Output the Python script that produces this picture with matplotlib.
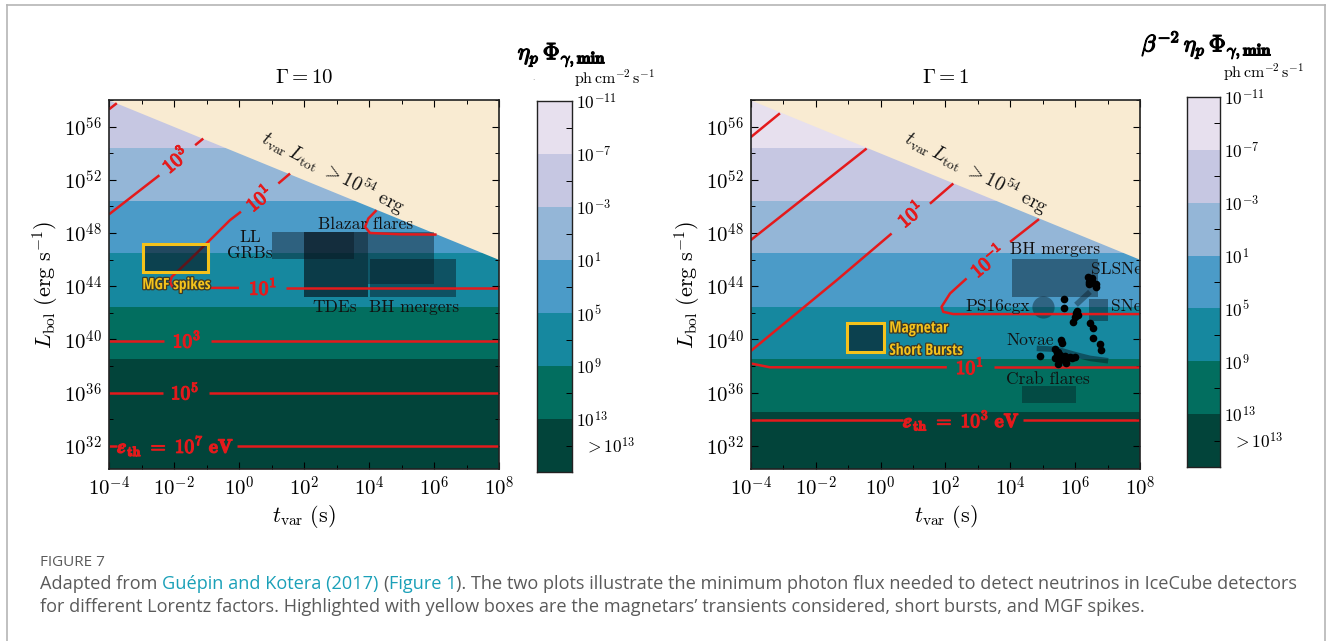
import numpy as np
import matplotlib
matplotlib.use("Agg")
import matplotlib.pyplot as plt
import matplotlib.patheffects as pe
from matplotlib import font_manager
from matplotlib.font_manager import FontProperties
from matplotlib.patches import Rectangle
from matplotlib.lines import Line2D
from matplotlib.ticker import FixedLocator, FuncFormatter, NullFormatter

plt.rcParams['mathtext.fontset'] = 'cm'
plt.rcParams['font.family'] = ['cmr10', 'DejaVu Sans']
plt.rcParams['axes.formatter.use_mathtext'] = True

# colour bar levels (log10 of ph cm^-2 s^-1) and colours, light to dark
flux_levels = [-11, -7, -3, 1, 5, 9, 13, 17]
flux_colors = ['#e7e0ee', '#c6c7e2', '#94b6d7', '#4b9bc8', '#16889f', '#026e5f', '#02443a']

# log10 L_bol where the flux band changes, bottom to top
left_band_edges = [30.25, 38.5, 42.45, 46.46, 50.4, 54.4, 58.0]
right_band_edges = [30.25, 34.5, 38.5, 42.45, 46.46, 50.4, 54.4, 58.0]

# t_var L_tot = 1e54 erg line (log10 t, log10 L)
limit_t = [-4, 8]
limit_L = [58, 46]

# red threshold-energy contours, each a list of visible pieces (log10 t, log10 L)
left_contours = [
    ([-4, -3.75], [32.0, 32.0]),
    ([-0.06, 8], [32.0, 32.0]),
    ([-4, -2.34], [36.0, 36.0]),
    ([-0.92, 8], [36.0, 36.0]),
    ([-4, -2.31], [39.9, 39.9]),
    ([-0.86, 8], [39.9, 39.9]),
    ([0.0, -1.9, -2.05, -2.12, -2.07, -1.55, -0.95, -0.28, 0.06],
     [43.87, 43.87, 43.95, 44.3, 44.7, 45.9, 47.33, 48.96, 49.6]),
    ([1.45, 8], [43.87, 43.87]),
    ([1.21, 1.57], [51.72, 52.47]),
    ([-4, -2.45], [49.4, 52.34]),
    ([-1.35, -1.1], [54.6, 55.1]),
    ([-4, -3.76], [57.3, 57.76]),
    ([4.23, 3.98, 3.88, 4.03, 4.95, 6.08], [49.71, 49.09, 48.46, 48.0, 47.9, 47.88]),
]
left_contour_labels = [
    (-1.94, 32.0, r'$\boldsymbol{\epsilon}_{\mathbf{th}}\ \mathbf{=\ 10^{7}\ eV}$', 0),
    (-1.66, 36.0, r'$\mathbf{10^{5}}$', 0),
    (-1.60, 39.9, r'$\mathbf{10^{3}}$', 0),
    (0.74, 43.87, r'$\mathbf{10^{1}}$', 0),
    (0.62, 50.6, r'$\mathbf{10^{1}}$', 40),
    (-1.95, 53.5, r'$\mathbf{10^{3}}$', 40),
]

right_contours = [
    ([-4, 0.70], [33.93, 33.93]),
    ([4.38, 8], [33.93, 33.93]),
    ([-4, -3.41, 2.04], [38.19, 37.9, 37.9]),
    ([3.49, 8], [37.9, 37.9]),
    ([-4, -1.35, 0.34], [39.12, 44.45, 47.96]),
    ([1.52, 2.24], [50.2, 51.72]),
    ([-4, -0.43], [47.46, 54.35]),
    ([-4, -3.1], [55.2, 57.0]),
    ([4.88, 3.99], [49.04, 47.33]),
    ([2.65, 2.14, 1.88, 1.93, 2.24, 8], [44.58, 43.45, 42.45, 42.07, 41.9, 41.9]),
]
right_contour_labels = [
    (2.5, 33.93, r'$\boldsymbol{\epsilon}_{\mathbf{th}}\ \mathbf{=\ 10^{3}\ eV}$', 0),
    (2.75, 37.9, r'$\mathbf{10^{1}}$', 0),
    (0.93, 49.4, r'$\mathbf{10^{1}}$', 40),
    (3.3, 45.9, r'$\mathbf{10^{-1}}$', 40),
]

# source regions: (log t min, log t max, log L min, log L max, alpha)
left_boxes = [
    (1.0, 3.54, 46.08, 48.08, 0.42),   # LL GRBs
    (2.0, 3.98, 43.15, 48.08, 0.65),   # TDEs
    (3.98, 6.0, 44.15, 48.08, 0.42),   # Blazar flares
    (4.03, 6.68, 43.15, 46.08, 0.45),  # BH mergers
]
right_boxes = [
    (4.04, 6.7, 43.15, 46.08, 0.42),   # BH mergers
    (6.42, 7.01, 41.37, 43.0, 0.42),   # SNe
    (4.35, 6.01, 35.19, 36.49, 0.38),  # Crab flares
]
mgf_box = (-2.96, -0.94, 45.08, 47.2)
magnetar_box = (-1.02, 0.11, 39.07, 41.24)

ps16cgx = (5.01, 42.45)
slsne_track_t = [6.02, 6.45]
slsne_track_L = [42.6, 43.57]
novae_track_t = [4.81, 5.42, 6.04, 6.45, 7.01]
novae_track_L = [39.32, 39.25, 38.82, 38.57, 38.39]

# individual transients (log t, log L)
dots_t = [6.40, 6.45, 6.50, 6.43, 6.55, 6.63, 6.65, 6.51, 6.41,
          5.65, 5.65, 6.02, 6.06, 6.09, 5.99, 5.94, 6.45, 6.55, 6.53, 6.76, 6.78,
          5.55, 5.58, 4.91, 5.37, 5.47, 5.53, 5.42, 5.58, 5.68, 5.73, 5.83, 5.89,
          5.99, 5.47, 5.71, 5.37, 5.53]
dots_L = [44.70, 44.45, 44.33, 44.20, 44.25, 44.20, 43.95, 44.58, 44.33,
          43.0, 42.37, 42.0, 42.12, 41.82, 41.70, 41.32, 41.20, 40.82, 40.12, 39.62, 39.19,
          39.94, 39.69, 38.74, 39.24, 39.07, 38.82, 38.94, 38.64, 38.74, 38.57, 38.69, 38.57,
          38.64, 38.14, 38.19, 38.57, 38.44]

# black labels (log t, log L, text, horizontal alignment)
left_texts = [
    (0.34, 47.08, 'LL\nGRBs', 'center'),
    (3.9, 48.64, 'Blazar flares', 'center'),
    (2.93, 42.4, 'TDEs', 'center'),
    (5.39, 42.4, 'BH mergers', 'center'),
]
right_texts = [
    (5.37, 46.76, 'BH mergers', 'center'),
    (6.47, 45.26, 'SLSNe', 'left'),
    (7.09, 42.45, 'SNe', 'left'),
    (4.6, 42.45, 'PS16cgx', 'right'),
    (4.61, 39.94, 'Novae', 'center'),
    (5.15, 37.01, 'Crab flares', 'center'),
]

RED = '#e41a1c'
YELLOW = '#f5c21b'
DARK = '#06121a'
W, H = 1332, 641


def fx(px):
    return px / W


def fy(py):
    return 1 - py / H


def p10(v):
    return 10.0 ** np.asarray(v, dtype=float)


def draw_panel(ax, band_edges, contours, contour_labels, boxes, texts, title, limit_xy):
    ax.set_xscale('log')
    ax.set_yscale('log')
    ax.set_xlim(1e-4, 1e8)
    ax.set_ylim(10 ** 30.25, 1e58)

    n = len(band_edges) - 1
    for i in range(n):
        ax.axhspan(10 ** band_edges[i], 10 ** band_edges[i + 1],
                   color=flux_colors[len(flux_colors) - 1 - i], lw=0, zorder=0)

    ax.fill_between(p10(limit_t), p10(limit_L), 1e60, color='#f9ebd2', lw=0, zorder=1)

    for t0, t1, L0, L1, a in boxes:
        ax.add_patch(Rectangle((10 ** t0, 10 ** L0), 10 ** t1 - 10 ** t0, 10 ** L1 - 10 ** L0,
                               facecolor=DARK, edgecolor='none', alpha=a, zorder=2))

    for ts, Ls in contours:
        ax.plot(p10(ts), p10(Ls), color=RED, lw=1.8, zorder=3, solid_capstyle='butt')
    for t, L, s, rot in contour_labels:
        ax.text(10 ** t, 10 ** L, s, color=RED, fontsize=14, rotation=rot,
                ha='center', va='center', zorder=6, rotation_mode='anchor',
                path_effects=[pe.withStroke(linewidth=0.9, foreground=RED)])

    for t, L, s, ha in texts:
        ax.text(10 ** t, 10 ** L, s, fontsize=12.5, ha=ha, va='center', color='#111111',
                zorder=7, linespacing=1.0, clip_on=True)

    ax.text(10 ** limit_xy[0], 10 ** limit_xy[1], r'$t_{\rm var}\, L_{\rm tot}\ >10^{54}\ {\rm erg}$',
            fontsize=14, rotation=-27, ha='center', va='center', zorder=7, color='#111111',
            rotation_mode='anchor')

    ax.xaxis.set_major_locator(FixedLocator(p10(np.arange(-4, 9, 2))))
    ax.xaxis.set_minor_locator(FixedLocator(p10(np.arange(-4, 9, 1))))
    ax.yaxis.set_major_locator(FixedLocator(p10(np.arange(32, 57, 4))))
    ax.yaxis.set_minor_locator(FixedLocator(p10(np.arange(30, 59, 2))))
    fmt = FuncFormatter(lambda v, p: r'$10^{%d}$' % round(np.log10(v)))
    ax.xaxis.set_major_formatter(fmt)
    ax.yaxis.set_major_formatter(fmt)
    ax.xaxis.set_minor_formatter(NullFormatter())
    ax.yaxis.set_minor_formatter(NullFormatter())
    ax.tick_params(which='both', direction='in', top=True, right=True, labelsize=15, pad=5)
    ax.tick_params(which='major', length=5, width=0.8)
    ax.tick_params(which='minor', length=3, width=0.7)
    for sp in ax.spines.values():
        sp.set_linewidth(1.2)
        sp.set_color('#222222')
        sp.set_zorder(10)

    ax.set_xlabel(r'$t_{\rm var}\ ({\rm s})$', fontsize=16, labelpad=2)
    ax.set_ylabel(r'$L_{\rm bol}\ ({\rm erg\ s^{-1}})$', fontsize=16, labelpad=2)
    ax.set_title(title, fontsize=15, pad=12)


def draw_colorbar(cax):
    for i in range(len(flux_colors)):
        cax.axhspan(flux_levels[i], flux_levels[i + 1], color=flux_colors[i], lw=0)
    cax.set_xlim(0, 1)
    cax.set_ylim(flux_levels[-1], flux_levels[0])
    cax.set_xticks([])
    cax.yaxis.tick_right()
    cax.set_yticks(flux_levels[:-1])
    cax.set_yticklabels([r'$10^{%d}$' % v for v in flux_levels[:-1]])
    cax.set_yticks([v + 2 for v in flux_levels[:-1]], minor=True)
    cax.tick_params(which='major', length=0, labelsize=12.5, pad=3)
    cax.tick_params(which='minor', length=4, direction='in', width=0.7)
    cax.text(1.35, flux_levels[-1] - 2, r'$>10^{13}$', transform=cax.get_yaxis_transform(),
             fontsize=12.5, va='center', ha='left')
    for sp in cax.spines.values():
        sp.set_linewidth(1.0)
        sp.set_color('#222222')


fig = plt.figure(figsize=(W / 100, H / 100), dpi=100)
renderer = fig.canvas.get_renderer()

ax_l = fig.add_axes([fx(109), fy(469), fx(499) - fx(109), fy(100) - fy(469)])
ax_r = fig.add_axes([fx(750.7), fy(469), fx(1140.3) - fx(750.7), fy(100) - fy(469)])

draw_panel(ax_l, left_band_edges, left_contours, left_contour_labels, left_boxes,
           left_texts, r'$\Gamma = 10$', (2.89, 52.5))
draw_panel(ax_r, right_band_edges, right_contours, right_contour_labels, right_boxes,
           right_texts, r'$\Gamma = 1$', (2.96, 52.5))

# yellow magnetar boxes
for ax, (t0, t1, L0, L1) in [(ax_l, mgf_box), (ax_r, magnetar_box)]:
    ax.add_patch(Rectangle((10 ** t0, 10 ** L0), 10 ** t1 - 10 ** t0, 10 ** L1 - 10 ** L0,
                           facecolor=DARK, alpha=0.6, edgecolor='none', zorder=4))
    ax.add_patch(Rectangle((10 ** t0, 10 ** L0), 10 ** t1 - 10 ** t0, 10 ** L1 - 10 ** L0,
                           facecolor='none', edgecolor=YELLOW, lw=2.2, zorder=5))


# the yellow labels are in a condensed bold face: take the narrowest installed bold sans
def narrow_bold_font():
    best, best_w = None, None
    for fam in ['Liberation Sans Narrow', 'Roboto Condensed', 'Noto Sans Condensed',
                'Noto Sans ExtraCondensed', 'Noto Sans SemiCondensed', 'Open Sans Condensed',
                'DejaVu Sans Condensed', 'Noto Sans', 'Roboto', 'Open Sans', 'Liberation Sans',
                'Inter', 'Lato', 'DejaVu Sans']:
        for stretch in ['condensed', 'normal']:
            try:
                path = font_manager.findfont(FontProperties(family=fam, weight='bold', stretch=stretch),
                                             fallback_to_default=False)
            except ValueError:
                continue
            fp = FontProperties(fname=path, size=12)
            probe = fig.text(0, 0, 'MGF spikes', fontproperties=fp)
            w = probe.get_window_extent(renderer).width
            probe.remove()
            if best_w is None or w < best_w:
                best, best_w = path, w
    return best, best_w


narrow_path, narrow_w = narrow_bold_font()
yellow_size = min(13.5, 12 * 68 / narrow_w)


def yellow_text(ax, t, L, s, ha='center'):
    ax.text(10 ** t, 10 ** L, s, color=YELLOW, fontproperties=FontProperties(fname=narrow_path,
            size=yellow_size), ha=ha, va='center', zorder=8,
            path_effects=[pe.withStroke(linewidth=1.8, foreground='#3a3a2a')])


yellow_text(ax_l, -1.92, 44.08, 'MGF spikes')
yellow_text(ax_r, 0.27, 40.82, 'Magnetar', ha='left')
yellow_text(ax_r, 0.27, 39.14, 'Short Bursts', ha='left')

# transients in the right panel
ax_r.plot(10 ** ps16cgx[0], 10 ** ps16cgx[1], 'o', ms=16, color=DARK, alpha=0.4, mec='none', zorder=2)
ax_r.plot(p10(slsne_track_t), p10(slsne_track_L), color=DARK, alpha=0.4, lw=4,
          solid_capstyle='butt', zorder=2)
ax_r.plot(p10(novae_track_t), p10(novae_track_L), color=DARK, alpha=0.45, lw=4,
          solid_capstyle='butt', zorder=2)
ax_r.plot(p10(dots_t), p10(dots_L), 'o', ms=5.5, color='black', mec='none', zorder=6)

# colour bars
cax_l = fig.add_axes([fx(537), fy(472), fx(572) - fx(537), fy(101) - fy(472)])
cax_r = fig.add_axes([fx(1187), fy(467), fx(1220) - fx(1187), fy(97) - fy(467)])
draw_colorbar(cax_l)
draw_colorbar(cax_r)

bold_black = [pe.withStroke(linewidth=0.9, foreground='black')]
fig.text(fx(562), fy(55), r'$\boldsymbol{\eta_p\,\Phi_{\gamma,\mathbf{min}}}$', fontsize=17,
         ha='center', va='center', path_effects=bold_black)
fig.text(fx(615), fy(78), r'$\mathrm{ph\,cm^{-2}\,s^{-1}}$', fontsize=11.5, ha='center', va='center')
fig.text(fx(533), fy(78), '.', fontsize=6, color='#888888', ha='center', va='center')
fig.text(fx(1207), fy(45), r'$\boldsymbol{\beta^{-2}\,\eta_p\,\Phi_{\gamma,\mathbf{min}}}$',
         fontsize=17, ha='center', va='center', path_effects=bold_black)
fig.text(fx(1264), fy(72), r'$\mathrm{ph\,cm^{-2}\,s^{-1}}$', fontsize=11.5, ha='center', va='center')

# frame around the figure
for xs, ys in [([7, 7], [641, 4.5]), ([7, 1325], [4.5, 4.5]), ([1325, 1325], [4.5, 641])]:
    fig.add_artist(Line2D([fx(x) for x in xs], [fy(y) for y in ys], color='#b5b5b5', lw=1.2))

# caption
CAP_FONT = ['Open Sans', 'DejaVu Sans']
GRAY = '#5a5a5a'
TEAL = '#1aa0b8'
fig.text(fx(40), fy(563), 'FIGURE 7', fontsize=11, color=GRAY, family=CAP_FONT, va='center')

caption_1 = [('Adapted from ', GRAY), ('Guépin and Kotera (2017)', TEAL), (' (', GRAY),
             ('Figure 1', TEAL),
             ('). The two plots illustrate the minimum photon flux needed to detect neutrinos '
              'in IceCube detectors', GRAY)]
caption_2 = [('for different Lorentz factors. Highlighted with yellow boxes are the magnetars\u2019 '
              'transients considered, short bursts, and MGF spikes.', GRAY)]


def text_width(s, size):
    probe = fig.text(0, 0, s + '|', fontsize=size, family=CAP_FONT)
    bar = fig.text(0, 0, '|', fontsize=size, family=CAP_FONT)
    w = probe.get_window_extent(renderer).width - bar.get_window_extent(renderer).width
    probe.remove()
    bar.remove()
    return w


def caption_line(pieces, x0, y0, size):
    prefix = ''
    for txt, col in pieces:
        lead = len(txt) - len(txt.lstrip())
        w = text_width(prefix + txt[:lead], size) if prefix + txt[:lead] else 0
        fig.text(fx(x0 + w), fy(y0), txt.lstrip(), fontsize=size, color=col,
                 family=CAP_FONT, va='center')
        prefix += txt


caption_line(caption_1, 40, 584, 13.1)
caption_line(caption_2, 40, 607, 13.1)

fig.savefig('out.png', dpi=100, facecolor='white')
